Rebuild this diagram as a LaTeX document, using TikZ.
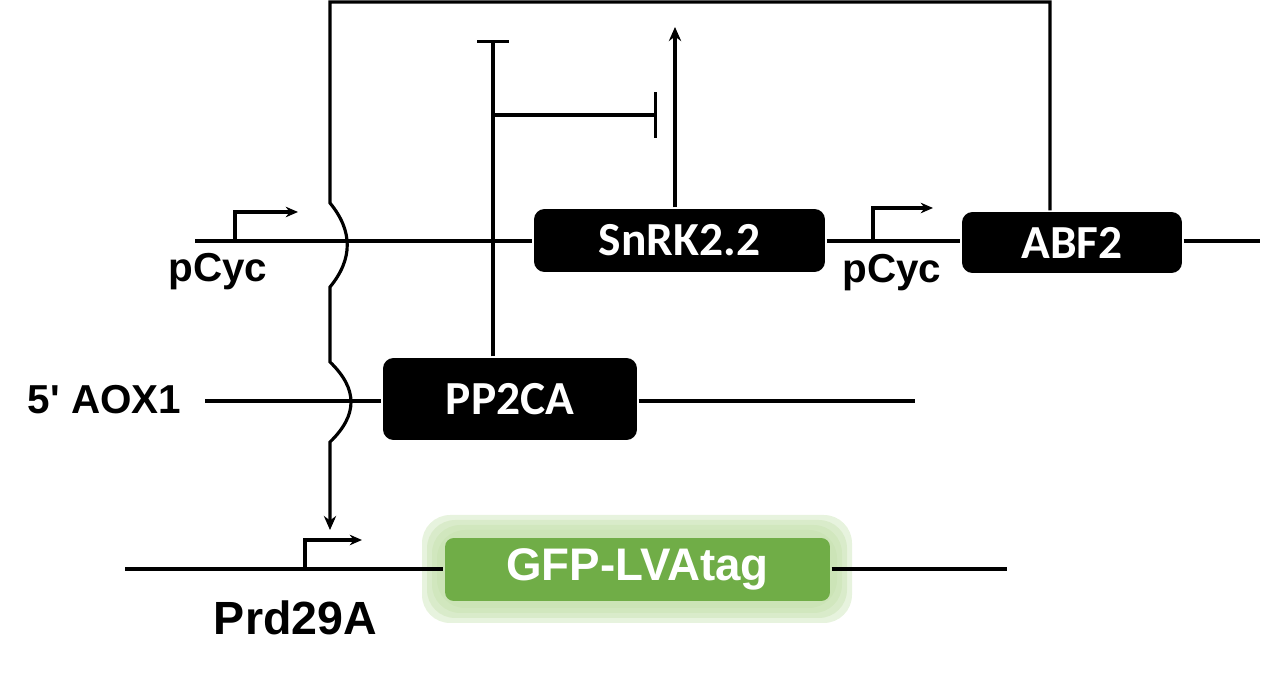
\documentclass[tikz,border=0pt]{standalone}
\usepackage{fontspec}
\setmainfont{Liberation Sans}
\newfontfamily\boxfont{Carlito}
\usetikzlibrary{arrows.meta}
\definecolor{gfpgreen}{RGB}{112,173,71}
\definecolor{gfpglow}{RGB}{196,224,172}
\tikzset{
  gene/.style={fill=black,rounded corners=6pt,text=white,inner sep=0pt,
    font=\boxfont\bfseries\fontsize{27}{30}\selectfont},
  lbl/.style={anchor=base,inner sep=0pt,font=\bfseries\fontsize{23}{27}\selectfont},
  prom/.style={-{Stealth[length=7pt,width=6pt]}},
}
\begin{document}
\begin{tikzpicture}[x=0.02cm,y=-0.02cm,line width=1.8pt,>={Stealth[length=8pt,width=7pt]}]
\useasboundingbox (0,0) rectangle (1262,675);
% glow behind the reporter
\foreach \g in {0,5,10,15}
  \fill[gfpglow,opacity=0.4,rounded corners=16pt] (422+\g,515+\g) rectangle (852-\g,623-\g);
% genes
\node[gene,minimum width=5.82cm,minimum height=1.26cm](snrk) at (679.5,240.5){SnRK2.2};
\node[gene,minimum width=4.4cm,minimum height=1.22cm](abf) at (1072,242.5){ABF2};
\node[gene,minimum width=5.08cm,minimum height=1.64cm](pp) at (510,399){PP2CA};
\node[gene,fill=gfpgreen,rounded corners=5pt,minimum width=7.7cm,minimum height=1.26cm,
  font=\bfseries\fontsize{26}{30}\selectfont](gfp) at (637.5,569.5){GFP-LVAtag\vphantom{A}};
% labels
\node[lbl](pcyca) at (218,282){pCyc};
\node[lbl](pcycb) at (892,283){pCyc};
\node[lbl](aox) at (104.5,414){5\textquotesingle\ AOX1};
\node[lbl,font=\bfseries\fontsize{26.5}{30}\selectfont](prd) at (295.5,635){Prd29A};
% free ends
\coordinate(l1a) at (195,241); \coordinate(l1b) at (1260,241);
\coordinate(l2a) at (205,401); \coordinate(l2b) at (915,401);
\coordinate(l3a) at (125,569); \coordinate(l3b) at (1007,569);
\coordinate(fbtop) at (1050,2); \coordinate(fbcorner) at (330,2);
\coordinate(fbend) at (330,530);
\coordinate(pptop) at (493,40); \coordinate(inhA) at (493,115); \coordinate(inhB) at (657,115);
\coordinate(stip) at (675,27);
% DNA lines
\draw(l1a)--(l1a -| snrk.west) (l1a -| snrk.east)--(l1a -| abf.west) (l1a -| abf.east)--(l1b);
\draw(l2a)--(l2a -| pp.west) (l2a -| pp.east)--(l2b);
\draw(l3a)--(l3a -| gfp.west) (l3a -| gfp.east)--(l3b);
% promoters
\draw[prom](235,241)|-(298,212);
\draw[prom](873,241)|-(933,208);
\draw[prom](305,569)|-(362,540);
% ABF2 feedback to Prd29A, hopping over the lines
\draw[->](abf.north -| fbtop)--(fbtop)--(fbcorner)--(330,203)
  ..controls(353,231)and(353,259)..(330,287)--(330,362)
  ..controls(358,389)and(358,415)..(330,442)--(fbend);
% PP2CA and SnRK2.2
\draw[-{Bar[width=18pt]}](pp.north -| pptop)--(pptop);
\draw[-{Bar[width=26pt]}](inhA)--(inhB);
\draw[->](snrk.north -| stip)--(stip);
\end{tikzpicture}
\end{document}
